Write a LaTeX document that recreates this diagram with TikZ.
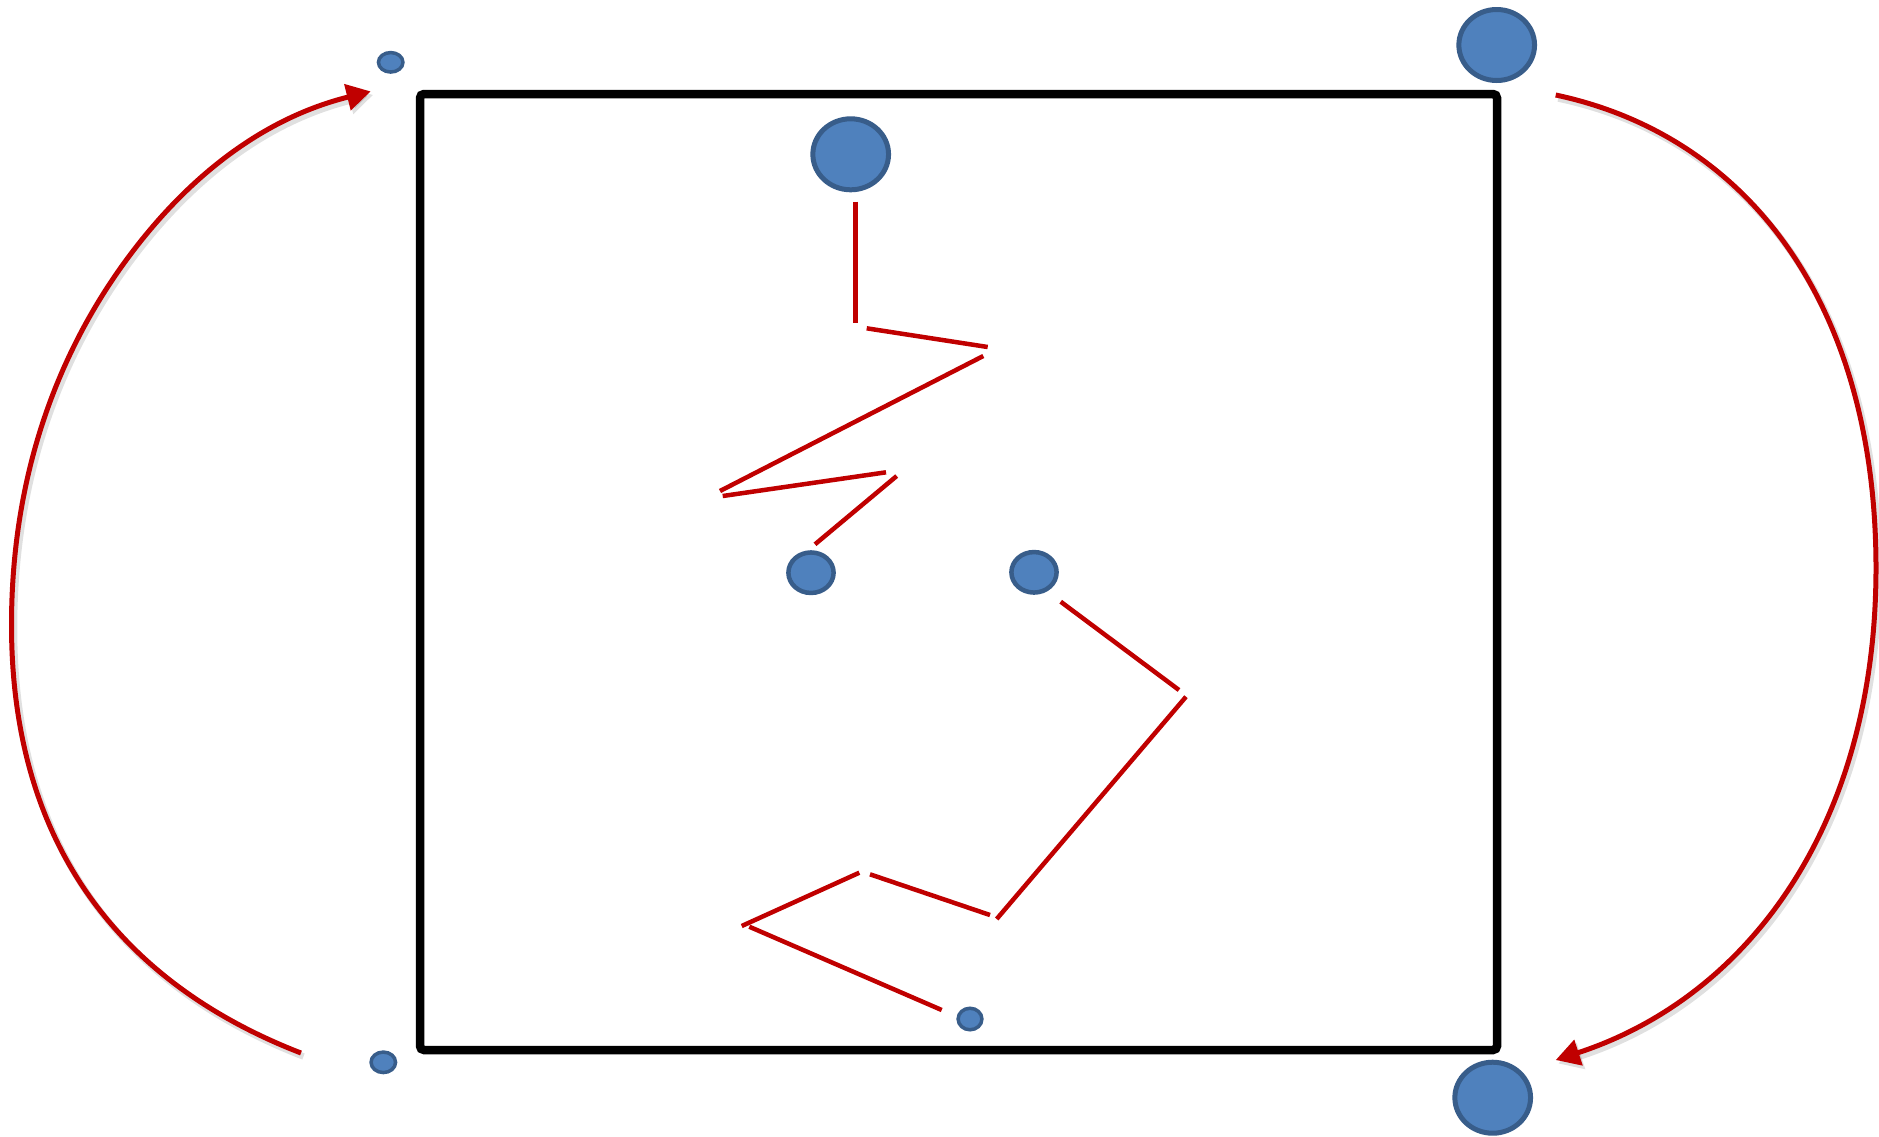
\documentclass[tikz,border=0pt]{standalone}
\usetikzlibrary{arrows.meta,shapes.geometric}
\definecolor{lred}{HTML}{C00000}
\definecolor{cfill}{HTML}{4F81BD}
\definecolor{cdraw}{HTML}{385D8A}
\begin{document}
\begin{tikzpicture}[x=1pt,y=-1pt,
  dot/.style={shape=ellipse, fill=cfill, draw=cdraw, inner sep=0pt, outer sep=0pt},
  bigdot/.style={dot, line width=5pt, minimum width=75.7pt, minimum height=71pt},
  middot/.style={dot, line width=4.5pt, minimum width=45.2pt, minimum height=40.5pt},
  smalldot/.style={dot, line width=3.5pt},
  seg/.style={draw=lred, line width=4.5pt},
  curvearrow/.style={draw=lred, line width=5pt, -{Triangle[length=24pt,width=26pt]}},
  shadowline/.style={draw=black, opacity=0.12, line width=6.5pt, -{Triangle[length=24pt,width=26pt]}},
  frame/.style={draw=black, line width=8.5pt, rounded corners=4pt, inner sep=0pt, minimum width=1077pt, minimum height=956pt}
]
\fill[white] (0,0) rectangle (1879,1136);
\useasboundingbox (0,0) rectangle (1879,1136);

% frame
\node[frame] (box) at (958.5,572) {};

% circles
\node[smalldot, minimum width=24.5pt, minimum height=19.5pt] (tl) at (390.7,62.3) {};
\node[bigdot] (tr) at (1496.7,45) {};
\node[bigdot] (top) at (850.7,154.3) {};
\node[middot] (ml) at (811,572.7) {};
\node[middot] (mr) at (1034,572.3) {};
\node[smalldot, minimum width=23.8pt, minimum height=21.5pt] (bm) at (970,1019) {};
\node[bigdot] (br) at (1492.7,1097.7) {};
\node[smalldot, minimum width=24.5pt, minimum height=20.5pt] (bl) at (383.3,1062.3) {};

% segment end points
\coordinate (a1) at (855.7,201.7);  \coordinate (b1) at (855.7,322.7);
\coordinate (a2) at (866.7,328.3);  \coordinate (b2) at (987.7,347);
\coordinate (a3) at (983.3,356);    \coordinate (b3) at (720,491);
\coordinate (a4) at (722.7,496);    \coordinate (b4) at (886,472.3);
\coordinate (a5) at (896.7,476);    \coordinate (b5) at (815,544.3);
\coordinate (a6) at (1060.7,601.7); \coordinate (b6) at (1179,690);
\coordinate (a7) at (1186,696.7);   \coordinate (b7) at (996.7,919);
\coordinate (a8) at (990,915);      \coordinate (b8) at (870,874.3);
\coordinate (a9) at (859.3,872.7);  \coordinate (b9) at (741.7,926);
\coordinate (a10) at (749.3,926.7); \coordinate (b10) at (941.7,1010);

\foreach \i in {1,...,10} {\draw[seg] (a\i) -- (b\i);}

% curved arrows
\coordinate (ls) at (301,1053);
\coordinate (lm) at (11.5,625);
\coordinate (lu) at (130,255);
\coordinate (le) at (370.7,91.4);
\coordinate (rs) at (1555.7,95);
\coordinate (rm) at (1876,568);
\coordinate (re) at (1555.7,1060);

\begin{scope}[transform canvas={shift={(2.5pt,-3.5pt)}}]
\draw[shadowline] (ls) .. controls (141.5,991.3) and (11.5,865) .. (lm)
  .. controls (11.5,465) and (64,343) .. (lu)
  .. controls (190,175) and (264,118) .. (le);
\draw[shadowline] (rs) .. controls (1751.3,136.6) and (1876,308) .. (rm)
  .. controls (1876,828) and (1745.9,998) .. (re);
\end{scope}

\draw[curvearrow] (ls) .. controls (141.5,991.3) and (11.5,865) .. (lm)
  .. controls (11.5,465) and (64,343) .. (lu)
  .. controls (190,175) and (264,118) .. (le);
\draw[curvearrow] (rs) .. controls (1751.3,136.6) and (1876,308) .. (rm)
  .. controls (1876,828) and (1745.9,998) .. (re);
\end{tikzpicture}
\end{document}
